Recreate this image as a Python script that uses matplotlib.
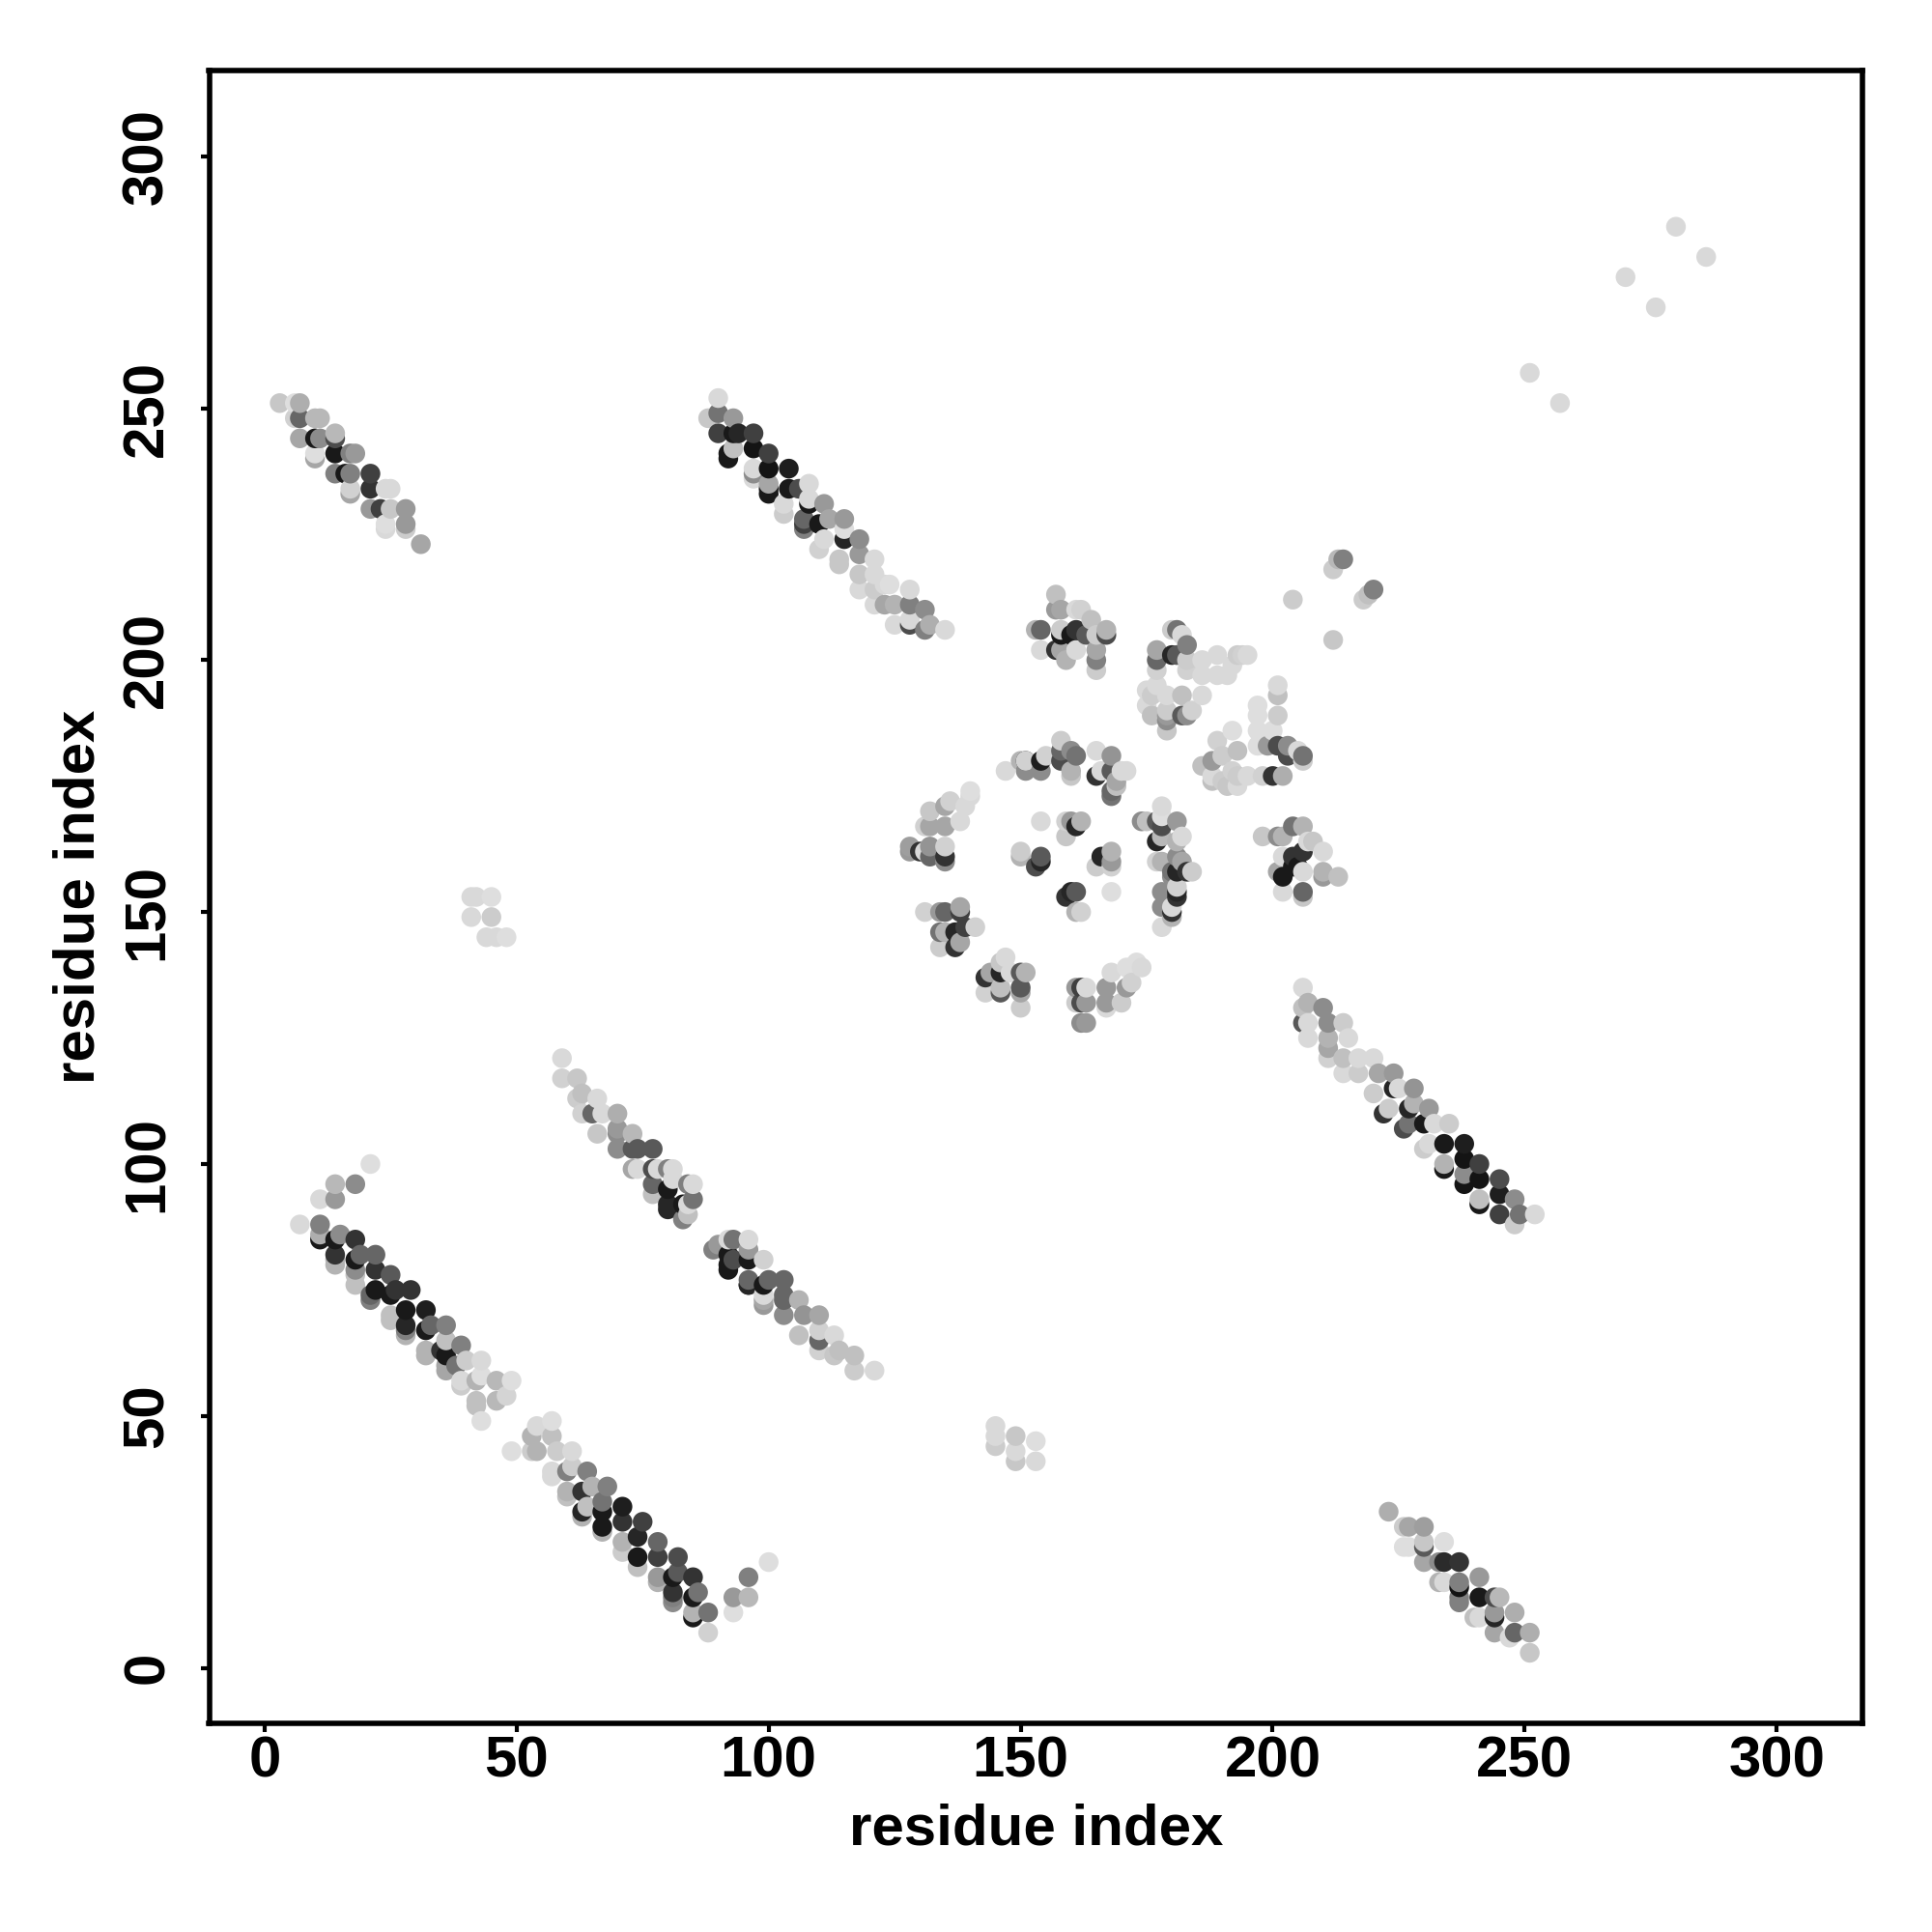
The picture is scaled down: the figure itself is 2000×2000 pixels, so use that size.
import matplotlib
matplotlib.use("Agg")
import matplotlib.pyplot as plt

plt.rcParams['font.family'] = ['Liberation Sans', 'DejaVu Sans']

# (residue i, residue j, grey level)
low_left = [(7,88,.85),(11,93,.85),(14,96,.72),(14,93,.6),(18,96,.55),(21,100,.87),
    (11,88,.5),(11,86,.68),(11,85,.1),(15,86,.55),(14,85,.1),(14,82,.2),(14,81,.7),
    (18,85,.2),(19,82,.4),(18,81,.1),(18,79,.55),(18,78,.75),(22,82,.4),(22,79,.2),
    (22,75,.1),(21,74,.4),(25,78,.35),(26,75,.2),(25,74,.1),(25,70,.75),(29,75,.2),
    (28,71,.1),(28,68,.15),(28,67,.5),(32,71,.12),(33,68,.4),(32,67,.1),(32,63,.7),
    (36,68,.5),(36,65,.75),(35,63,.2),(36,62,.1),(36,60,.65),(39,64,.5),(40,61,.8),
    (38,60,.45),(39,57,.85),(43,61,.85),(43,58,.87),(42,57,.7),(42,53,.75),(46,57,.72),
    (49,57,.87),(48,54,.83),(46,53,.72),(43,49,.87)]

low_mid = [(49,43,.87),(57,49,.87),(54,48,.85),(53,46,.7),(57,46,.75),(53,43,.8),(54,43,.7),
    (61,43,.85),(58,43,.8),(61,40,.8),(57,39,.85),(60,39,.5),(64,39,.5),(65,36,.7),
    (68,36,.5),(60,35,.7),(63,35,.2),(64,32,.75),(63,31,.15),(67,33,.45),(67,31,.1),
    (71,32,.12),(71,29,.2),(67,28,.1),(75,29,.25),(74,26,.15),(71,25,.7),(78,25,.4),
    (74,22,.1),(78,22,.25),(82,22,.3),(78,18,.6),(82,19,.35),(81,18,.1),(85,18,.2),
    (86,15,.45),(81,15,.2),(81,14,.5),(85,14,.1),(85,11,.7),(88,11,.45),(88,7,.82),
    (93,14,.6),(93,11,.87),(96,18,.5),(96,14,.72),(100,21,.87)]

# pale and dark edges peeking out under the bands
low_edge = [(18,76,.75),(14,80,.7),(21,73,.5),(25,69,.75),(28,66,.7),(32,62,.7),(36,59,.65),
    (39,56,.8),(42,52,.75),(57,38,.85),(60,34,.75),(63,30,.7),(67,27,.7),(71,23,.8),(74,20,.75),
    (78,17,.7),(81,13,.55),(85,10,.1)]

band_edge = [(92,240,.1),(97,236,.85),(100,233,.1),(103,229,.8),(107,226,.5),(110,222,.82),(114,219,.78),
    (222,110,.2),(226,107,.3),(230,103,.8),(234,99,.1),(238,96,.08),(241,92,.1),
    (77,94,.75),(80,91,.15),(92,79,.1),(96,76,.2),(99,72,.6),(237,13,.5)]

strand_b1 = [(59,121,.85),(59,117,.82),(62,117,.78),(62,113,.8),(63,114,.75),(66,113,.85),
    (63,110,.82),(65,110,.4),(67,110,.85),(70,110,.68),(66,106,.78),(70,107,.6),(70,106,.55),
    (73,106,.72),(70,103,.55),(73,103,.35),(74,103,.35),(77,103,.35),(73,99,.65),(74,99,.85),
    (77,99,.3),(78,99,.85),(80,99,.5),(81,99,.85),(77,96,.4),(80,95,.1),(81,97,.85),
    (84,96,.5),(85,96,.85),(85,93,.45),(80,92,.15),(83,92,.1),(84,92,.85),(83,89,.5),(84,90,.75)]

strand_b2 = [(89,83,.5),(90,84,.6),(92,85,.85),(93,85,.45),(96,85,.85),(96,83,.6),(92,82,.1),
    (93,81,.3),(92,80,.1),(96,81,.1),(99,81,.82),(96,77,.4),(96,76,.15),(100,77,.4),(103,77,.4),
    (99,76,.1),(103,74,.4),(99,74,.85),(106,73,.7),(103,73,.4),(99,73,.65),(103,70,.55),
    (107,70,.58),(110,70,.65),(106,66,.75),(110,67,.82),(110,65,.4),(113,66,.85),(114,63,.75),
    (110,63,.82),(113,62,.78),(117,62,.75),(117,59,.8),(121,59,.85)]

patch_low = [(145,48,.85),(145,46,.85),(145,44,.8),(149,46,.78),(149,43,.85),(149,41,.78),
    (153,45,.87),(153,41,.85)]

patch_left = [(41,153,.85),(42,153,.85),(45,153,.87),(41,149,.85),(45,149,.8),(44,145,.85),
    (46,145,.85),(48,145,.87)]

top_a = [(3,251,.78),(7,251,.68),(6,251,.87),(7,248,.4),(6,248,.82),(11,248,.72),(10,248,.72),
    (7,244,.65),(10,244,.1),(11,244,.55),(14,245,.72),(14,244,.3),(10,241,.87),(10,240,.65),
    (14,241,.1),(18,241,.6),(17,241,.5),(14,237,.5),(16,237,.1),(17,237,.5),(21,237,.25),
    (21,234,.2),(17,234,.82),(17,233,.65),(24,234,.85),(25,234,.85),(21,230,.6),(23,230,.25),
    (25,230,.78),(28,230,.6),(24,227,.87),(24,226,.85),(28,227,.6),(28,226,.8),(31,223,.65)]

top_b = [(90,252,.85),(88,248,.78),(90,249,.45),(93,248,.6),(90,245,.25),(94,245,.15),(93,245,.1),
    (97,245,.25),(93,242,.75),(92,241,.1),(97,242,.08),(100,241,.25),(97,238,.85),(97,237,.55),
    (100,238,.08),(104,238,.12),(100,235,.65),(104,234,.1),(106,234,.3),(108,235,.85),
    (100,234,.1),(108,232,.85),(108,231,.1),(103,231,.85),(111,231,.6),(112,228,.65),(107,228,.4),
    (107,227,.25),(115,228,.6),(111,224,.85),(110,227,.1),(115,226,.87),(115,224,.15),(118,224,.55),
    (118,221,.6),(114,220,.78),(121,220,.85),(118,217,.78),(118,214,.85),(121,217,.85),(121,214,.8),
    (124,215,.87),(123,215,.85),(128,214,.85),(123,211,.65),(121,211,.85),(125,211,.7),(128,211,.5),
    (131,210,.55),(128,208,.85),(128,207,.3),(125,207,.85),(132,207,.68),(131,206,.5),(135,206,.85)]

ring_top = [(147,178,.85),(150,180,.7),(151,180,.15),(151,180,.82),(151,178,.55),(154,180,.12),
    (155,181,.82),(154,178,.55),(158,184,.8),(158,182,.4),(158,180,.3),(160,182,.55),(161,181,.45),
    (160,178,.7),(160,177,.78),(165,182,.85),(168,181,.58),(165,177,.2),(166,178,.85),(168,178,.35),
    (170,178,.85),(171,178,.85),(169,176,.65),(168,174,.4),(169,175,.75),(168,173,.45)]

ring_left = [(140,174,.87),(140,173,.85),(136,172,.82),(135,171,.65),(139,171,.85),(132,170,.78),
    (138,168,.85),(131,167,.82),(132,167,.65),(135,167,.65),(128,163,.62),(132,163,.58),(135,163,.82),
    (131,162,.85),(130,162,.2),(132,161,.4),(135,161,.2),(135,160,.55),(128,162,.6)]

ring_low = [(131,150,.82),(134,150,.6),(135,150,.4),(138,151,.65),(138,150,.25),(134,146,.45),
    (135,146,.7),(137,146,.15),(139,147,.25),(141,147,.82),(134,143,.8),(137,143,.2),(138,144,.65),
    (143,137,.2),(144,138,.65),(143,134,.82),(146,134,.35),(146,135,.75),(147,141,.85),(146,140,.78),
    (146,138,.15),(148,138,.85),(150,138,.35),(151,138,.7),(150,135,.35),(150,134,.65),(150,131,.8)]

ring_bottom = [(161,135,.6),(162,135,.25),(163,135,.85),(161,132,.8),(162,132,.3),(163,132,.6),
    (162,128,.55),(163,128,.6),(167,135,.6),(167,132,.6),(167,131,.85),(168,138,.85),(170,132,.8),
    (171,135,.6),(172,136,.82),(171,139,.87),(173,140,.87),(174,139,.85)]

ring_right = [(174,168,.55),(175,168,.75),(178,171,.85),(178,169,.87),(177,168,.35),(178,167,.3),
    (181,168,.6),(178,165,.72),(177,164,.15),(182,165,.85),(181,164,.7),(177,160,.82),(178,160,.7),
    (181,161,.55),(182,160,.65),(181,158,.15),(180,158,.45),(183,158,.2),(184,158,.8),(180,157,.55),
    (178,154,.55),(181,155,.82),(181,154,.15),(181,153,.2),(178,151,.55),(180,151,.85),(180,150,.2),
    (180,149,.7),(178,147,.85)]

ring_centre = [(154,168,.85),(159,168,.82),(160,168,.6),(161,167,.15),(162,168,.7),(159,165,.78),
    (150,162,.8),(150,161,.7),(154,161,.35),(154,160,.15),(153,159,.3),(168,162,.7),(166,161,.15),
    (168,160,.6),(165,159,.8),(168,159,.82),(161,154,.35),(159,153,.2),(160,154,.15),(168,154,.87),
    (162,150,.82),(161,150,.7)]

mid_a = [(157,213,.75),(154,206,.4),(153,206,.7),(154,202,.85),(157,210,.6),(158,210,.65),(161,210,.85),
    (162,210,.82),(164,208,.75),(158,205,.1),(160,205,.1),(161,206,.2),(167,206,.7),(167,205,.3),
    (165,205,.8),(158,202,.65),(157,202,.2),(161,202,.85),(165,202,.65),(165,200,.5),(165,198,.8),
    (159,200,.7),(158,206,.8),(163,205,.35)]

mid_b = [(177,202,.65),(177,200,.4),(177,198,.82),(181,206,.45),(180,206,.8),(182,205,.85),(183,203,.5),
    (180,201,.15),(181,201,.35),(183,200,.8),(186,200,.85),(183,198,.82),(186,197,.85),(189,201,.85),
    (189,197,.85),(191,197,.85),(193,201,.8),(194,201,.82),(195,201,.85),(192,199,.85),
    (175,194,.85),(177,195,.85),(175,191,.85),(176,193,.8),(176,189,.75),(179,193,.85),(179,190,.8),
    (179,189,.6),(179,188,.55),(179,186,.78),(182,193,.75),(186,193,.85),(182,189,.35),(183,189,.55),
    (184,190,.82)]

mid_c = [(201,195,.85),(201,193,.75),(197,191,.87),(201,189,.8),(197,189,.87),(197,186,.87),(200,186,.87),
    (192,186,.87),(197,183,.87),(189,184,.82),(199,183,.6),(201,183,.3),(203,183,.55),(205,182,.85),
    (203,181,.3),(206,181,.45),(206,180,.8),(193,182,.75),(190,181,.8),(186,179,.75),(188,180,.6),
    (188,177,.85),(192,178,.82),(195,177,.85),(193,177,.8),(190,176,.8),(188,176,.75),(198,177,.82),
    (200,177,.2),(202,177,.68),(193,175,.85),(191,175,.78)]

mid_far = [(214,220,.5),(213,220,.72),(212,218,.8),(220,214,.5),(219,213,.75),(218,212,.8),(204,212,.8),
    (212,204,.78),(280,286,.85),(286,280,.85),(270,276,.85),(276,270,.85),(251,257,.85),(257,251,.85)]

mid_d = [(198,165,.78),(201,165,.55),(202,165,.7),(204,167,.45),(206,167,.7),(208,164,.78),(207,164,.85),
    (210,162,.85),(204,161,.2),(204,159,.1),(202,161,.85),(206,162,.2),(205,159,.1),(201,158,.65),
    (202,157,.1),(210,158,.7),(210,157,.6),(213,157,.75),(206,158,.85),(202,154,.85),(206,154,.4),
    (206,153,.78)]

right_a = [(206,135,.85),(207,132,.7),(206,131,.75),(210,131,.55),(206,128,.35),(207,128,.85),(211,128,.55),
    (214,128,.8),(207,125,.85),(211,125,.7),(211,123,.65),(211,121,.82),(215,125,.85),(214,121,.75),
    (217,121,.85),(220,121,.85),(214,118,.85),(217,118,.8),(221,118,.65),(224,118,.6),(220,114,.8),
    (224,115,.15),(225,115,.85),(228,115,.58),(223,111,.8),(228,112,.7),(227,111,.15),(231,111,.6),
    (227,108,.45),(230,108,.1),(232,108,.85),(235,108,.8),(231,104,.85),(234,104,.1),(238,104,.12),
    (234,100,.7),(238,101,.08),(241,100,.25),(238,98,.55),(241,97,.08),(245,97,.3),(241,93,.75),
    (245,94,.12),(248,93,.55),(245,90,.25),(249,90,.45),(252,90,.85),(248,88,.8)]

right_b = [(223,31,.68),(226,28,.8),(227,28,.65),(230,28,.62),(226,24,.87),(227,24,.87),(230,25,.78),
    (230,24,.35),(230,21,.65),(234,25,.87),(234,21,.17),(233,21,.55),(237,21,.2),(237,17,.5),(233,17,.7),
    (234,17,.85),(237,16,.08),(237,14,.5),(241,18,.6),(241,14,.1),(244,14,.3),(245,14,.72),(241,10,.85),
    (240,10,.75),(244,11,.6),(244,10,.15),(244,7,.65),(248,11,.68),(248,7,.4),(251,7,.68),(247,6,.85),
    (251,3,.78)]

ticks = [0, 50, 100, 150, 200, 250, 300]
label = "residue index"

clusters = [low_left, low_mid, low_edge, band_edge, strand_b1, strand_b2, patch_low, patch_left, top_a, top_b,
            ring_top, ring_left, ring_low, ring_bottom, ring_right, ring_centre,
            mid_a, mid_b, mid_c, mid_d, mid_far, right_a, right_b]
pts = []
for c in clusters:
    pts.extend(c)
# lighter rings sit over darker ones the way the map was looped: i then j
pts = sorted(pts, key=lambda p: (p[0], p[1]))
xs = [p[0] for p in pts]
ys = [p[1] for p in pts]
gs = [p[2] for p in pts]

fig = plt.figure(figsize=(10, 10), dpi=200)
ax = fig.add_axes([216.5/2000, 1-1784/2000, (1928-216.5)/2000, (1784-73)/2000])
ax.scatter(xs, ys, c=gs, cmap='gray', vmin=0, vmax=1, s=54, linewidths=0)
ax.set_xlim(-11, 317)
ax.set_ylim(-11, 317)
ax.set_xticks(ticks)
ax.set_yticks(ticks)
ax.tick_params(axis='both', length=3.1, width=1.5, labelsize=21.6)
ax.tick_params(axis='x', pad=1.5)
ax.tick_params(axis='y', pad=9.8)
for t in ax.get_xticklabels():
    t.set_fontweight('bold')
for t in ax.get_yticklabels():
    t.set_fontweight('bold')
    t.set_rotation(90)
    t.set_va('center')
for s in ax.spines.values():
    s.set_linewidth(2)
ax.set_xlabel(label, fontsize=21.6, fontweight='bold', labelpad=5.2)
ax.set_ylabel(label, fontsize=21.6, fontweight='bold', labelpad=5.9)
fig.savefig("out.png", dpi=200)
